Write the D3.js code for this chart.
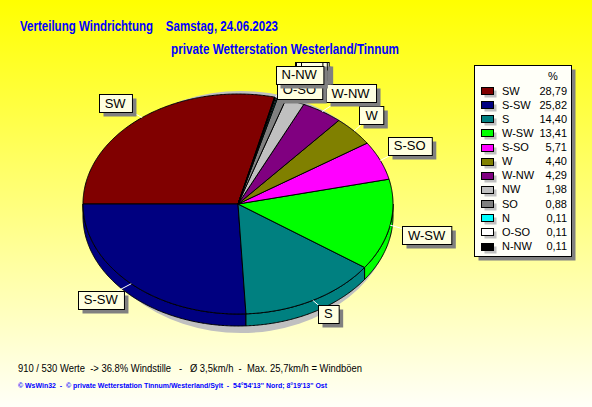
<!DOCTYPE html>
<html>
<head>
<meta charset="utf-8">
<script src="https://cdn.jsdelivr.net/npm/d3@7"></script>
<style>
html,body{margin:0;padding:0;background:#fff;}
svg{display:block;}
text{font-family:"Liberation Sans",Arial,Helvetica,sans-serif;}
</style>
</head>
<body>
<svg id="chart" width="592" height="407"></svg>
<script>
// ---- data ----
const categories = ["SW","S-SW","S","W-SW","S-SO","W","W-NW","NW","SO","N","O-SO","N-NW"];
const values     = [28.79,25.82,14.40,13.41,5.71,4.40,4.29,1.98,0.88,0.11,0.11,0.11];
const colors     = ["#800000","#000080","#008080","#00FF00","#FF00FF","#808000","#800080","#C0C0C0","#808080","#00FFFF","#FFFFFF","#000000"];
const titleLeft  = "Verteilung Windrichtung";
const titleDate  = "Samstag, 24.06.2023";
const subtitle   = "private Wetterstation Westerland/Tinnum";
const footer1    = "910 / 530 Werte  -> 36.8% Windstille   -   Ø 3,5km/h  -  Max. 25,7km/h = Windböen";
const footer2    = "© WsWin32  -  © private Wetterstation Tinnum/Westerland/Sylt  -  54°54'13'' Nord; 8°19'13'' Ost";
const legendHeader = "%";
// pie labels hidden behind other label boxes in the reference (boxes only)
const hiddenLabels = ["NW","SO","N"];

// ---- layout (presentation only) ----
const W = 592, H = 407;
const cx = 238, cy = 204, rx = 155, ry = 110, depth = 12;
const labelNudge = {"SW":[-6,3],"S-SW":[-7,0],"S":[-1,-6],"W-SW":[3,6],"S-SO":[-2,-6],"W":[-8,-1],
  "W-NW":[10,0],"NW":[4,-10],"SO":[20,-6],"N":[26,-5],"O-SO":[15,13.5],"N-NW":[16,-1]};

const svg = d3.select("#chart");
const defs = svg.append("defs");
const grad = defs.append("linearGradient").attr("id","bg").attr("x1",0).attr("y1",0).attr("x2",0).attr("y2",1);
grad.append("stop").attr("offset","0%").attr("stop-color","#FFFF00");
grad.append("stop").attr("offset","100%").attr("stop-color","#FFFFF8");
svg.append("rect").attr("width",W).attr("height",H).attr("fill","url(#bg)");

// titles
function fitText(g, str, x, y, len, size, weight, color){
  return g.append("text").attr("x",x).attr("y",y).attr("font-size",size).attr("font-weight",weight)
    .attr("fill",color).attr("textLength",len).attr("lengthAdjust","spacingAndGlyphs")
    .style("white-space","pre").text(str);
}
fitText(svg, titleLeft + "    " + titleDate, 20, 31, 258, 15, "bold", "#0000FF");
fitText(svg, subtitle, 171, 54, 228, 15, "bold", "#0000FF");
fitText(svg, footer1, 18, 372, 344, 11, "normal", "#000000");
fitText(svg, footer2, 18, 388, 309, 8, "bold", "#0000FF");

// ---- pie ----
const data = categories.map((c,i)=>({cat:c, v:values[i], color:colors[i]}));
const total = d3.sum(values);
const start = -Math.PI/2 + values[0]/total*2*Math.PI;
const arcs = d3.pie().sort(null).value(d=>d.v).startAngle(start).endAngle(start - 2*Math.PI)(data);

const proj = (t, dy=0) => [cx + rx*Math.sin(t), cy - ry*Math.cos(t) + dy];
const line = d3.line();
function arcPts(a0, a1, dy){
  const n = Math.max(2, Math.ceil(Math.abs(a1-a0)/(Math.PI/360)));
  return d3.range(n+1).map(i => proj(a0 + (a1-a0)*i/n, dy));
}

const pieG = svg.append("g");
// shadow
pieG.append("ellipse").attr("cx",cx+3).attr("cy",cy+8).attr("rx",rx-3).attr("ry",ry+11).attr("fill","#C0C0C0");

// sides (visible where cos<0)
arcs.forEach(a=>{
  const lo = Math.min(a.startAngle,a.endAngle), hi = Math.max(a.startAngle,a.endAngle);
  for(let k=-2;k<=1;k++){
    const v0 = Math.PI/2 + 2*Math.PI*k, v1 = 3*Math.PI/2 + 2*Math.PI*k;
    const s0 = Math.max(lo,v0), s1 = Math.min(hi,v1);
    if(s1 > s0){
      const pts = arcPts(s0,s1,0).concat(arcPts(s1,s0,depth));
      pieG.append("path").attr("d", line(pts)+"Z").attr("fill",a.data.color)
        .attr("stroke","#000").attr("stroke-width",1).attr("stroke-linejoin","round");
    }
  }
});
// tops
arcs.forEach(a=>{
  const pts = [[cx,cy]].concat(arcPts(a.startAngle,a.endAngle,0));
  pieG.append("path").attr("d", line(pts)+"Z").attr("fill",a.data.color)
    .attr("stroke","#000").attr("stroke-width",1).attr("stroke-linejoin","round");
});

// ---- labels ----
const labG = svg.append("g");
const labels = arcs.map(a=>{
  const m = (a.startAngle + a.endAngle)/2;
  const nud = labelNudge[a.data.cat] || [0,0];
  return {a, m, edge: proj(m,0),
    x: cx + 1.22*rx*Math.sin(m) + nud[0],
    y: cy - 1.2*ry*Math.cos(m) + nud[1]};
});
labels.forEach(l=>{
  labG.append("line").attr("x1",l.edge[0]).attr("y1",l.edge[1]).attr("x2",l.x).attr("y2",l.y)
    .attr("stroke","#FFFFFF").attr("stroke-width",1);
});
labels.forEach(l=>{
  const g = labG.append("g");
  const t = g.append("text").attr("x",l.x).attr("y",l.y+4.5).attr("text-anchor","middle")
    .attr("font-size",13).attr("fill","#000").text(l.a.data.cat);
  const w = t.node().getComputedTextLength() + 12, h = 18;
  if(hiddenLabels.includes(l.a.data.cat)) t.remove();
  const bx = Math.round(l.x - w/2)+0.5, by = Math.round(l.y - h/2)+0.5;
  g.insert("rect",":first-child").attr("x",bx).attr("y",by).attr("width",w).attr("height",h)
    .attr("fill","#FFFFE0").attr("stroke","#000").attr("stroke-width",1);
  g.insert("rect",":first-child").attr("x",bx+4).attr("y",by+4).attr("width",w).attr("height",h).attr("fill","#808080");
});

// ---- legend ----
const lg = svg.append("g");
const lx = 474.5, ly = 65.5, lw = 97, lh = 191;
lg.append("rect").attr("x",lx+4).attr("y",ly+4).attr("width",lw).attr("height",lh).attr("fill","#808080");
lg.append("rect").attr("x",lx).attr("y",ly).attr("width",lw).attr("height",lh).attr("fill","#FFFFF8").attr("stroke","#000");
lg.append("text").attr("x",553).attr("y",80).attr("text-anchor","middle").attr("font-size",11).text(legendHeader);
const rowY = d3.scalePoint().domain(categories).range([90.5, 246]);
const fmt = d3.format(".2f");
data.forEach(d=>{
  const y = rowY(d.cat);
  lg.append("rect").attr("x",484.5).attr("y",Math.round(y-3.5)+3.5).attr("width",12).attr("height",7).attr("fill","#C0C0C0");
  lg.append("rect").attr("x",481.5).attr("y",Math.round(y-3.5)+0.5).attr("width",12).attr("height",7)
    .attr("fill",d.color).attr("stroke","#000");
  lg.append("text").attr("x",502).attr("y",y+4).attr("font-size",11).attr("fill","#000").text(d.cat);
  lg.append("text").attr("x",567).attr("y",y+4).attr("font-size",11).attr("text-anchor","end").attr("fill","#000")
    .text(fmt(d.v).replace(".",","));
});
</script>
</body>
</html>
